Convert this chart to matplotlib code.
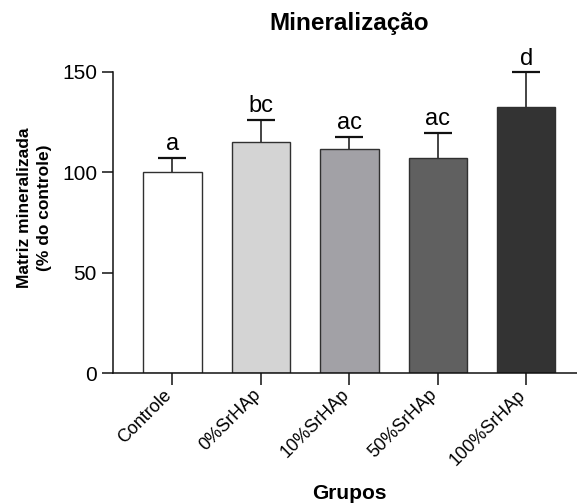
import matplotlib
matplotlib.use("Agg")
import matplotlib.pyplot as plt

# Data
groups = ["Controle", "0%SrHAp", "10%SrHAp", "50%SrHAp", "100%SrHAp"]
means = [100.0, 115.2, 111.6, 107.3, 132.6]
sd_upper = [7.3, 11.0, 6.0, 12.3, 17.0]
letters = ["a", "bc", "ac", "ac", "d"]
fills = ["#ffffff", "#d4d4d4", "#a2a1a6", "#606060", "#333333"]
yticks = [0, 50, 100, 150]

plt.rcParams["font.family"] = ["Liberation Sans", "DejaVu Sans"]

fig = plt.figure(figsize=(5.77, 5.03), dpi=100)
ax = fig.add_axes([113 / 577, 0.2579, 1 - 113 / 577, 0.5996])

x = list(range(len(groups)))
ax.bar(x, means, width=0.66, color=fills, edgecolor="#303030", linewidth=1.0, zorder=2)
_, caps, _ = ax.errorbar(x, means, yerr=[[0] * len(means), sd_upper], fmt="none",
                         ecolor="#111111", elinewidth=1.1, capsize=10.4,
                         capthick=1.6, zorder=1, clip_on=False)
# one-sided (upper) error bars: hide the lower caps
caps[0].set_visible(False)

for xi, m, e, lab in zip(x, means, sd_upper, letters):
    ax.annotate(lab, (xi, m + e), xytext=(0, 5.5), textcoords="offset points",
                ha="center", va="baseline", fontsize=17, annotation_clip=False)

ax.set_xlim(-0.672, 4.574)
ax.set_ylim(0, 150)
ax.set_yticks(yticks)
ax.set_yticklabels([str(t) for t in yticks], fontsize=15)
ax.set_xticks(x)
ax.set_xticklabels(groups, fontsize=13, rotation=45, ha="right",
                   va="baseline", rotation_mode="anchor")

for side in ("top", "right"):
    ax.spines[side].set_visible(False)
for side in ("left", "bottom"):
    ax.spines[side].set_linewidth(1.1)
    ax.spines[side].set_color("#111111")

ax.tick_params(axis="y", length=8, width=1.1, pad=3.5, color="#111111")
ax.tick_params(axis="x", length=8.5, width=1.1, pad=7.5, color="#111111")

ax.set_ylabel("Matriz mineralizada\n(% do controle)", fontsize=12.5,
              fontweight="bold", linespacing=1.4)
ax.yaxis.set_label_coords(-0.132, 0.55)

fig.text(349.5 / 577, (503 - 30) / 503, "Mineralização", ha="center",
         va="baseline", fontsize=17.5, fontweight="bold")
fig.text(349 / 577, 4 / 503, "Grupos", ha="center", va="baseline",
         fontsize=15, fontweight="bold")

fig.savefig("out.png", dpi=100)
